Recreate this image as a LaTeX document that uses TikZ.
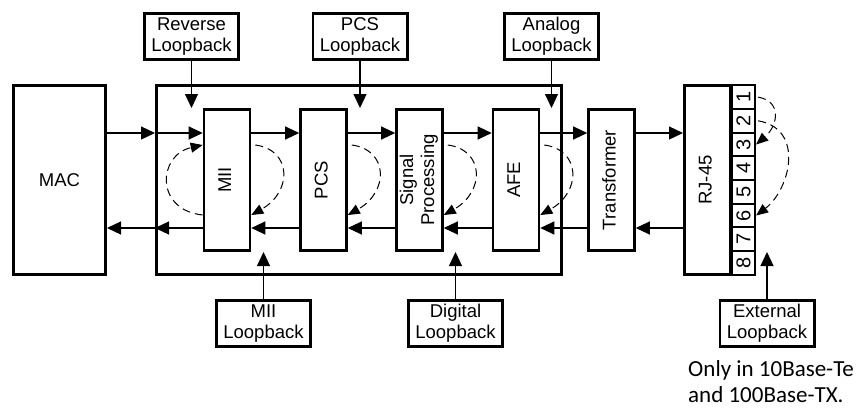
\documentclass[tikz,border=0pt]{standalone}
\usepackage{fontspec}
\setmainfont{Liberation Sans}
\newfontfamily\notefont{Carlito}
\usetikzlibrary{arrows.meta}
\newcommand{\vlabel}[1]{\rotatebox{90}{\begin{tabular}{@{}c@{}}#1\end{tabular}}}
\tikzset{
  blk/.style={draw, line width=2.6pt, inner sep=0pt, font=\fontsize{18.5}{21}\selectfont},
  unit/.style={blk, minimum width=46pt, minimum height=141.4pt},
  lbbox/.style={blk, minimum width=94.4pt, minimum height=46.4pt, align=center},
  pinbox/.style={draw, line width=2.2pt, inner sep=0pt, minimum width=23pt, minimum height=23.675pt, font=\fontsize{20}{22}\selectfont},
  sig/.style={line width=1.2pt, -{Triangle[length=14pt,width=13pt]}},
  loopsig/.style={line width=1pt, dash pattern=on 8pt off 5pt, -{Triangle[length=12pt,width=10pt]}}
}
\begin{document}
\begin{tikzpicture}[x=1pt, y=-1pt]
  \useasboundingbox (0,0) rectangle (865,410);
  \node[blk, minimum width=92.4pt, minimum height=189.4pt] (mac) at (59.5,180) {MAC};
  \node[blk, minimum width=405.4pt, minimum height=189.4pt] (phy) at (359,180) {};
  \node[unit] (mii) at (227,180) {\vlabel{MII}};
  \node[unit] (pcs) at (323.5,180) {\vlabel{PCS}};
  \node[unit] (sp) at (419.5,180) {\vlabel{Signal\\Processing}};
  \node[unit] (afe) at (516,180) {\vlabel{AFE}};
  \node[unit] (xfmr) at (611.5,180) {\vlabel{Transformer}};
  \node[blk, minimum width=46.4pt, minimum height=189.4pt] (rj) at (707.5,180) {\vlabel{RJ-45}};
  \foreach \i in {1,...,8}
    \node[pinbox] (p\i) at (743.5,{85.3+23.675*(\i-0.5)}) {\rotatebox{90}{\i}};

  \node[lbbox] (rev) at (191.5,36.5) {Reverse\\Loopback};
  \node[lbbox] (pcslb) at (360,36.5) {PCS\\Loopback};
  \node[lbbox] (analb) at (551.5,36.5) {Analog\\Loopback};
  \node[lbbox] (miilb) at (263.5,323.5) {MII\\Loopback};
  \node[lbbox] (diglb) at (455.5,323.5) {Digital\\Loopback};
  \node[lbbox] (extlb) at (767,323.5) {External\\Loopback};
  \node[anchor=north west, inner sep=0pt, align=left, font=\notefont\fontsize{23}{26}\selectfont] (note) at (688,360) {Only in 10Base-Te\\and 100Base-TX.};

  \coordinate (tx) at (0,133);
  \coordinate (rx) at (0,228);
  \draw[sig] (mac.east |- tx) -- (phy.west |- tx);
  \draw[sig] (phy.west |- tx) -- (mii.west |- tx);
  \draw[sig] (mii.east |- tx) -- (pcs.west |- tx);
  \draw[sig] (pcs.east |- tx) -- (sp.west |- tx);
  \draw[sig] (sp.east |- tx) -- (afe.west |- tx);
  \draw[sig] (afe.east |- tx) -- (xfmr.west |- tx);
  \draw[sig] (xfmr.east |- tx) -- (rj.west |- tx);
  \draw[sig] (rj.west |- rx) -- (xfmr.east |- rx);
  \draw[sig] (xfmr.west |- rx) -- (afe.east |- rx);
  \draw[sig] (afe.west |- rx) -- (sp.east |- rx);
  \draw[sig] (sp.west |- rx) -- (pcs.east |- rx);
  \draw[sig] (pcs.west |- rx) -- (mii.east |- rx);
  \draw[sig] (mii.west |- rx) -- (phy.west |- rx);
  \draw[sig] (phy.west |- rx) -- (mac.east |- rx);

  \draw[sig] (rev.south) -- (rev.south |- mii.north);
  \draw[sig] (pcslb.south) -- (pcslb.south |- mii.north);
  \draw[sig] (analb.south) -- (analb.south |- mii.north);
  \draw[sig] (miilb.north) -- (miilb.north |- mii.south);
  \draw[sig] (diglb.north) -- (diglb.north |- mii.south);
  \draw[sig] (extlb.north) -- (extlb.north |- mii.south);

  \draw[loopsig] ([shift={(0,35)}]mii.west) .. controls +(-48,-5) and +(-45,10) .. ([shift={(0,-35)}]mii.west);
  \foreach \b in {mii,pcs,sp,afe}
    \draw[loopsig] ([shift={(4,-35)}]\b.east) .. controls +(37,5) and +(41,-23) .. ([shift={(0,35)}]\b.east);
  \draw[loopsig] ([xshift=2pt]p1.east) .. controls +(24,4) and +(22,-19) .. (p3.east);
  \draw[loopsig] ([xshift=2pt]p2.east) .. controls +(47,8) and +(34,-26) .. (p6.east);
\end{tikzpicture}
\end{document}
